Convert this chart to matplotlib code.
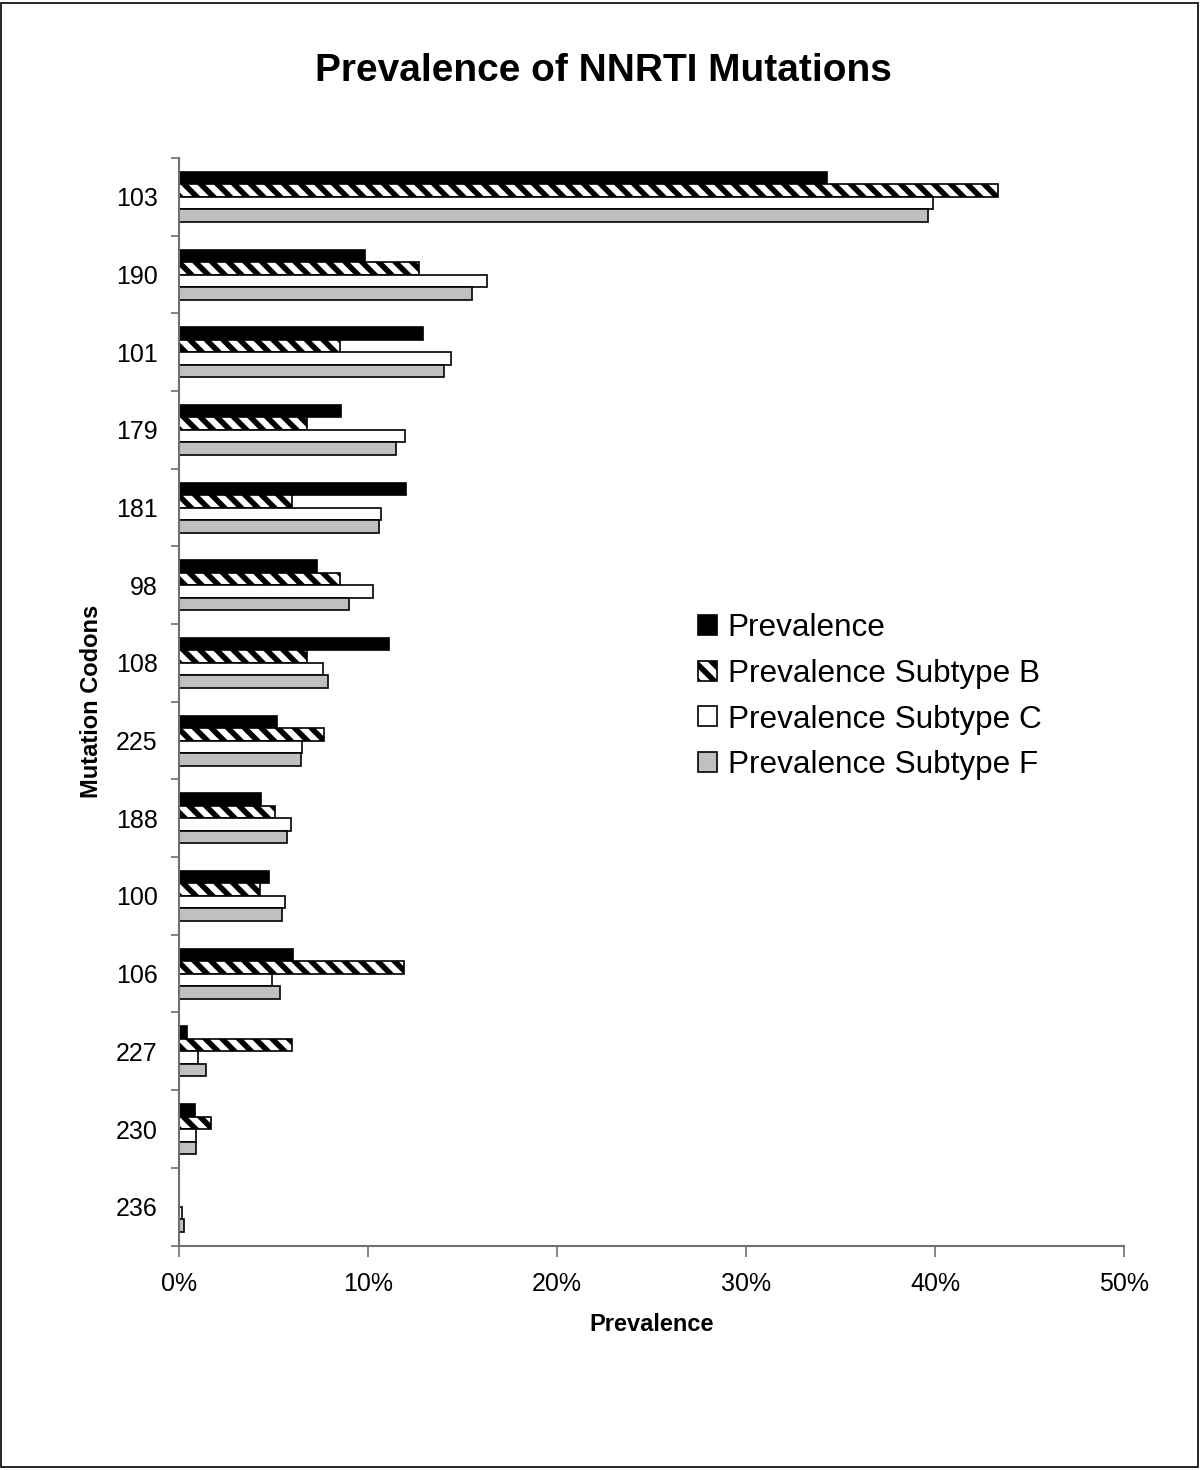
import numpy as np
import matplotlib
matplotlib.use("Agg")
import matplotlib.pyplot as plt
from matplotlib.patches import Rectangle
from matplotlib.ticker import FuncFormatter, FixedLocator

plt.rcParams['font.family'] = ['Liberation Sans', 'DejaVu Sans']
plt.rcParams['hatch.linewidth'] = 4.0

# Mutation codons, top to bottom
codons = ['103', '190', '101', '179', '181', '98', '108', '225', '188', '100', '106', '227', '230', '236']

# Prevalence (%) per codon
prev_all = [34.3, 9.86, 12.9, 8.58, 12.0, 7.31, 11.13, 5.19, 4.35, 4.77, 6.04, 0.42, 0.85, 0.0]
prev_b = [43.3, 12.7, 8.5, 6.78, 5.95, 8.5, 6.78, 7.65, 5.1, 4.26, 11.9, 5.95, 1.7, 0.0]
prev_c = [39.9, 16.3, 14.4, 11.96, 10.69, 10.26, 7.63, 6.52, 5.94, 5.6, 4.91, 1.0, 0.92, 0.18]
prev_f = [39.6, 15.5, 14.0, 11.46, 10.6, 8.99, 7.9, 6.45, 5.69, 5.44, 5.35, 1.43, 0.92, 0.25]

series = [
    ('Prevalence', prev_all, dict(color='black')),
    ('Prevalence Subtype B', prev_b, dict(color='white', hatch='\\\\')),
    ('Prevalence Subtype C', prev_c, dict(color='white')),
    ('Prevalence Subtype F', prev_f, dict(color='#c0c0c0')),
]

fig = plt.figure(figsize=(12.04, 14.70), dpi=100)
ax = fig.add_axes([0.1487, 0.1527, 0.9338 - 0.1487, 0.8925 - 0.1527])

y = np.arange(len(codons))
h = 0.161
for k, (name, vals, style) in enumerate(series):
    ax.barh(y + (k - 1.5) * h, vals, height=h, edgecolor='black',
            linewidth=1.2, label=name, **style)

ax.set_xlim(0, 50)
ax.set_ylim(len(codons) - 0.5, -0.5)

# tick marks between categories, labels in the middle
ax.yaxis.set_major_locator(FixedLocator(np.arange(-0.5, len(codons), 1.0)))
ax.yaxis.set_major_formatter(FuncFormatter(lambda v, p: ''))
ax.yaxis.set_minor_locator(FixedLocator(y))
ax.set_yticklabels(codons, minor=True)
ax.tick_params(axis='y', which='minor', length=0, pad=15.5, labelsize=18)
ax.tick_params(axis='y', which='major', length=6, width=1.2, color='#707070', direction='out')

ax.set_xticks(np.arange(0, 51, 10))
ax.xaxis.set_major_formatter(FuncFormatter(lambda v, p: f'{v:.0f}%'))
ax.tick_params(axis='x', length=8, width=1.2, color='#707070', pad=11, labelsize=18)

for side in ['top', 'right']:
    ax.spines[side].set_visible(False)
for side in ['left', 'bottom']:
    ax.spines[side].set_color('#707070')
    ax.spines[side].set_linewidth(1.5)

ax.set_xlabel('Prevalence', fontsize=17, fontweight='bold', labelpad=12)
ax.set_ylabel('Mutation Codons', fontsize=17, fontweight='bold')
ax.yaxis.set_label_coords(-0.0805, 0.5)

fig.text(0.501, 0.9515, 'Prevalence of NNRTI Mutations', ha='center', va='center',
         fontsize=28, fontweight='bold')

ax.legend(loc='upper left', bbox_to_anchor=(0.5795, 0.583), bbox_transform=fig.transFigure,
          frameon=False, fontsize=22.7, handlelength=0.6, handleheight=0.6,
          handletextpad=0.35, labelspacing=0.5, borderpad=0, borderaxespad=0)

# outer frame of the chart area
fig.patches.append(Rectangle((0.001, 0.002), 0.994, 0.996, transform=fig.transFigure,
                             fill=False, edgecolor='black', linewidth=1.2))

fig.savefig('out.png', dpi=100)
